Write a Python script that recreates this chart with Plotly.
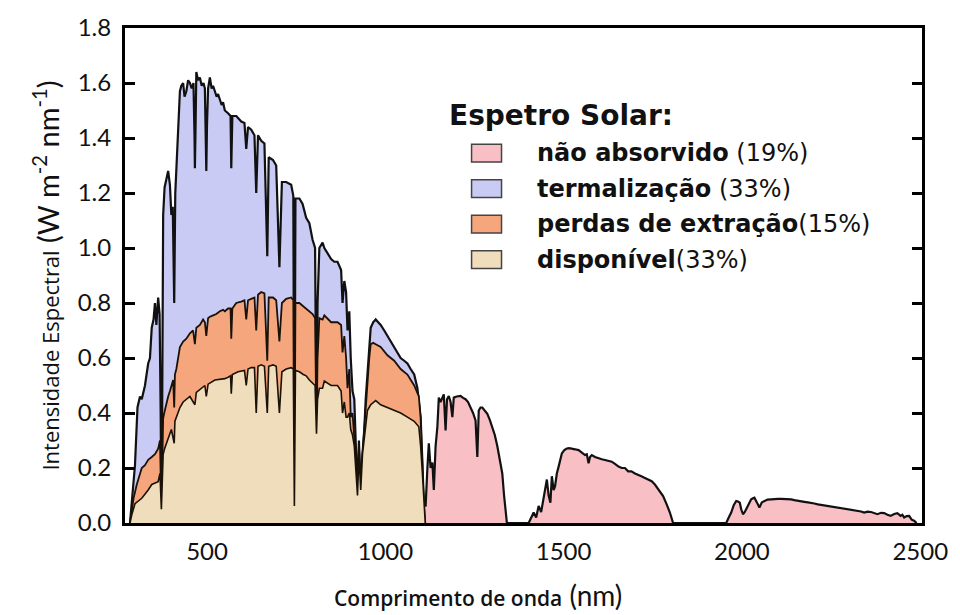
import plotly.graph_objects as go

# --- Data ---
# total spectrum, part absorbed by the cell (lambda below band gap)
wl_short = [284, 292, 298, 305, 312, 317, 326, 335, 340, 345, 350, 354, 358, 363, 367, 370, 372, 374,
            377, 381, 386, 391, 396, 400, 404, 408, 411, 414, 417, 421, 424, 428, 433, 437, 442, 447,
            452, 457, 462, 465, 466, 468, 470, 475, 480, 485, 490, 494, 497, 498, 500, 503, 508, 513,
            517, 522, 527, 531, 536, 541, 545, 550, 559, 566, 568, 571, 582, 596, 605, 610, 615, 624,
            633, 638, 643, 652, 661, 669, 673, 685, 694, 703, 710, 722, 736, 742, 745, 748, 759, 768,
            778, 787, 796, 803, 807, 810, 815, 824, 829, 838, 848, 857, 866, 876, 880, 885, 890, 894,
            899, 903, 908, 913, 918, 922, 926, 931, 936, 941, 945, 950, 955, 959, 966, 973, 980, 987,
            997, 1006, 1015, 1025, 1034, 1043, 1053, 1062, 1071, 1081, 1090, 1095, 1099, 1104, 1108]
total_short = [0.0, 0.12, 0.21, 0.42, 0.46, 0.45, 0.50, 0.58, 0.60, 0.71, 0.74, 0.80, 0.72, 0.82, 0.76,
               0.40, 0.05, 0.35, 1.12, 1.22, 1.25, 1.28, 1.23, 1.12, 1.15, 0.80, 1.20, 1.30, 1.37, 1.50,
               1.57, 1.59, 1.60, 1.55, 1.57, 1.61, 1.60, 1.58, 1.60, 1.40, 1.29, 1.45, 1.64, 1.61, 1.62,
               1.59, 1.60, 1.58, 1.40, 1.28, 1.45, 1.58, 1.62, 1.58, 1.59, 1.57, 1.55, 1.56, 1.54, 1.52,
               1.53, 1.50, 1.49, 1.48, 1.29, 1.48, 1.48, 1.46, 1.455, 1.36, 1.44, 1.43, 1.41, 1.20, 1.41,
               1.39, 1.38, 0.97, 1.33, 1.32, 1.30, 0.93, 1.24, 1.24, 1.23, 1.19, 0.06, 1.18, 1.18, 1.16,
               1.11, 1.09, 1.03, 1.00, 0.34, 0.80, 1.00, 1.02, 1.00, 0.98, 0.96, 0.95, 0.95, 0.92, 0.80,
               0.88, 0.84, 0.70, 0.77, 0.60, 0.48, 0.45, 0.22, 0.10, 0.30, 0.12, 0.25, 0.34, 0.45, 0.55,
               0.64, 0.71, 0.73, 0.74, 0.73, 0.72, 0.70, 0.68, 0.66, 0.64, 0.62, 0.60, 0.59, 0.58, 0.56,
               0.54, 0.49, 0.44, 0.385, 0.22, 0.07]

# total spectrum beyond the band gap (not absorbed)
wl_long = [1108, 1113, 1118, 1122, 1127, 1132, 1136, 1141, 1146, 1150, 1155, 1160, 1164, 1169, 1173,
           1178, 1183, 1188, 1192, 1200, 1211, 1218, 1225, 1232, 1239, 1246, 1253, 1258, 1262, 1267,
           1272, 1279, 1286, 1293, 1300, 1307, 1314, 1321, 1328, 1333, 1337, 1341, 1402, 1409, 1416,
           1423, 1430, 1437, 1444, 1449, 1453, 1458, 1463, 1467, 1472, 1476, 1481, 1486, 1490, 1495,
           1502, 1509, 1516, 1523, 1532, 1542, 1551, 1560, 1565, 1570, 1574, 1579, 1588, 1598, 1607,
           1616, 1626, 1635, 1644, 1654, 1663, 1672, 1681, 1690, 1700, 1709, 1718, 1728, 1737, 1747,
           1756, 1765, 1772, 1779, 1789, 1798, 1807, 1956, 1963, 1970, 1977, 1984, 1989, 1994, 1998,
           2003, 2008, 2012, 2019, 2026, 2031, 2035, 2042, 2049, 2056, 2063, 2072, 2082, 2091, 2101,
           2110, 2119, 2129, 2138, 2147, 2157, 2166, 2175, 2185, 2194, 2203, 2213, 2222, 2231, 2241,
           2250, 2259, 2268, 2278, 2287, 2296, 2306, 2315, 2324, 2334, 2343, 2352, 2362, 2371, 2380,
           2390, 2399, 2408, 2417, 2427, 2436, 2445, 2450, 2455, 2462, 2469, 2476, 2483, 2490]
total_long = [0.07, 0.06, 0.20, 0.29, 0.20, 0.22, 0.12, 0.28, 0.35, 0.456, 0.44, 0.46, 0.468, 0.337,
              0.45, 0.462, 0.44, 0.385, 0.456, 0.46, 0.462, 0.455, 0.45, 0.44, 0.42, 0.40, 0.373, 0.24,
              0.409, 0.42, 0.42, 0.41, 0.397, 0.375, 0.349, 0.32, 0.28, 0.23, 0.18, 0.10, 0.038, 0.0,
              0.0, 0.02, 0.038, 0.02, 0.062, 0.04, 0.098, 0.13, 0.158, 0.10, 0.074, 0.17, 0.12, 0.134,
              0.18, 0.205, 0.23, 0.253, 0.265, 0.271, 0.272, 0.271, 0.268, 0.265, 0.255, 0.247, 0.25,
              0.217, 0.24, 0.247, 0.24, 0.235, 0.232, 0.229, 0.225, 0.223, 0.215, 0.205, 0.20, 0.20,
              0.188, 0.188, 0.18, 0.176, 0.17, 0.164, 0.158, 0.152, 0.14, 0.122, 0.11, 0.098, 0.068,
              0.038, 0.0, 0.0, 0.02, 0.038, 0.065, 0.08, 0.078, 0.074, 0.05, 0.032, 0.04, 0.05, 0.07,
              0.086, 0.09, 0.092, 0.075, 0.056, 0.075, 0.08, 0.085, 0.086, 0.088, 0.088, 0.088, 0.088,
              0.087, 0.086, 0.083, 0.08, 0.078, 0.077, 0.075, 0.074, 0.071, 0.068, 0.066, 0.065, 0.063,
              0.062, 0.059, 0.056, 0.054, 0.053, 0.051, 0.05, 0.047, 0.044, 0.042, 0.038, 0.041, 0.04,
              0.035, 0.032, 0.037, 0.036, 0.03, 0.026, 0.033, 0.036, 0.026, 0.03, 0.02, 0.025, 0.026,
              0.012, 0.008, 0.0]

# top of the "extraction losses" band
wl_extr = [284, 289, 294, 303, 312, 317, 326, 335, 345, 354, 363, 368, 372, 375, 377, 380, 386, 391,
           396, 400, 405, 408, 410, 414, 424, 433, 442, 452, 461, 466, 470, 480, 489, 494, 498, 503,
           508, 517, 526, 536, 545, 550, 559, 566, 568, 571, 582, 596, 605, 610, 615, 624, 633, 638,
           643, 652, 661, 669, 673, 685, 694, 703, 710, 722, 736, 742, 745, 748, 759, 768, 778, 787,
           796, 803, 807, 810, 815, 824, 829, 848, 866, 876, 880, 885, 890, 894, 899, 903, 908, 913,
           918, 922, 926, 931, 936, 941, 945, 950, 955, 959, 966, 973, 987, 1006, 1025, 1043, 1062,
           1081, 1094, 1099, 1104, 1108, 1112]
extr = [0.0, 0.05, 0.09, 0.14, 0.18, 0.20, 0.21, 0.23, 0.24, 0.25, 0.27, 0.30, 0.05, 0.25, 0.38, 0.40,
        0.44, 0.46, 0.48, 0.50, 0.52, 0.42, 0.54, 0.56, 0.64, 0.66, 0.67, 0.69, 0.70, 0.65, 0.71, 0.72,
        0.74, 0.73, 0.68, 0.745, 0.75, 0.755, 0.76, 0.77, 0.775, 0.77, 0.78, 0.78, 0.67, 0.78, 0.80,
        0.805, 0.81, 0.74, 0.81, 0.815, 0.82, 0.70, 0.83, 0.84, 0.835, 0.59, 0.82, 0.82, 0.81, 0.66,
        0.80, 0.815, 0.82, 0.81, 0.062, 0.80, 0.80, 0.79, 0.78, 0.77, 0.76, 0.745, 0.325, 0.60, 0.745,
        0.74, 0.755, 0.73, 0.73, 0.72, 0.62, 0.68, 0.60, 0.49, 0.56, 0.385, 0.40, 0.31, 0.20, 0.10,
        0.28, 0.12, 0.25, 0.337, 0.43, 0.53, 0.60, 0.65, 0.655, 0.65, 0.64, 0.61, 0.59, 0.56, 0.54,
        0.50, 0.46, 0.38, 0.20, 0.07, 0.0]

# top of the "available" band
wl_avail = [284, 289, 298, 317, 335, 345, 363, 368, 372, 375, 377, 381, 391, 400, 408, 410, 424, 433,
            452, 466, 470, 484, 494, 498, 503, 522, 550, 559, 566, 568, 571, 587, 605, 610, 615, 624,
            633, 638, 643, 652, 661, 669, 673, 685, 694, 703, 710, 722, 736, 742, 745, 748, 759, 770,
            778, 787, 796, 803, 807, 810, 815, 824, 829, 848, 866, 876, 880, 885, 890, 894, 899, 903,
            908, 913, 918, 922, 926, 931, 936, 941, 945, 950, 959, 973, 987, 1006, 1025, 1043, 1062,
            1081, 1094, 1099, 1104, 1108, 1112]
avail = [0.0, 0.03, 0.07, 0.09, 0.12, 0.14, 0.15, 0.18, 0.05, 0.17, 0.25, 0.27, 0.31, 0.34, 0.29, 0.37,
         0.42, 0.44, 0.46, 0.43, 0.475, 0.49, 0.50, 0.46, 0.505, 0.52, 0.525, 0.53, 0.535, 0.47, 0.54,
         0.55, 0.555, 0.50, 0.56, 0.565, 0.565, 0.40, 0.57, 0.575, 0.57, 0.40, 0.57, 0.575, 0.57, 0.40,
         0.55, 0.56, 0.565, 0.56, 0.062, 0.555, 0.55, 0.54, 0.535, 0.52, 0.51, 0.50, 0.325, 0.45, 0.49,
         0.49, 0.516, 0.50, 0.50, 0.48, 0.40, 0.44, 0.385, 0.385, 0.40, 0.34, 0.32, 0.28, 0.18, 0.10,
         0.25, 0.12, 0.25, 0.31, 0.37, 0.41, 0.43, 0.445, 0.43, 0.42, 0.41, 0.40, 0.385, 0.37, 0.35,
         0.28, 0.18, 0.07, 0.0]

legend_labels = ["não absorvido", "termalização", "perdas de extração", "disponível"]
legend_pcts = [" (19%)", " (33%)", "(15%)", "(33%)"]

# --- Style ---
C_PINK = "#F8C0C5"
C_LAV = "#C9CBF5"
C_ORANGE = "#F6A67C"
C_TAN = "#EFDDBB"
TICK_FONT = "Lato, 'Open Sans', sans-serif"
LEG_FONT = "'DejaVu Sans', sans-serif"

W, H = 960, 615
L, R, T, B = 125, 37, 21, 92


def px_to_paper(px, py):
    return (px - L) / (W - L - R), (H - B - py) / (H - T - B)


fig = go.Figure()

fig.add_trace(go.Scatter(x=wl_long, y=total_long, mode="lines", fill="tozeroy",
                         fillcolor=C_PINK, line=dict(color="#111", width=2.2), hoverinfo="skip"))
fig.add_trace(go.Scatter(x=wl_short, y=total_short, mode="lines", fill="tozeroy",
                         fillcolor=C_LAV, line=dict(color="#111", width=2.2), hoverinfo="skip"))
fig.add_trace(go.Scatter(x=wl_extr, y=extr, mode="lines", fill="tozeroy",
                         fillcolor=C_ORANGE, line=dict(color="#1a1208", width=1.8), hoverinfo="skip"))
fig.add_trace(go.Scatter(x=wl_avail, y=avail, mode="lines", fill="tozeroy",
                         fillcolor=C_TAN, line=dict(color="#1a1208", width=1.6), hoverinfo="skip"))

fig.update_layout(
    width=W, height=H,
    margin=dict(l=L, r=R, t=T, b=B),
    paper_bgcolor="white", plot_bgcolor="white",
    showlegend=False,
    font=dict(family=TICK_FONT, color="#111"),
)

fig.update_xaxes(
    range=[270, 2505], tickvals=[500, 1000, 1500, 2000, 2500],
    ticks="", showgrid=False, zeroline=False,
    showline=True, linecolor="black", linewidth=3, mirror=True,
    tickfont=dict(family=TICK_FONT, size=24, color="#111"),
    ticklabelstandoff=5,
)
fig.update_yaxes(
    range=[0, 1.8], dtick=0.2, tickformat=".1f",
    ticks="inside", ticklen=10, tickwidth=3, tickcolor="black",
    showgrid=False, zeroline=False,
    showline=True, linecolor="black", linewidth=3, mirror="ticks",
    tickfont=dict(family=TICK_FONT, size=24, color="#111"),
    ticklabelstandoff=6,
)

# legend (drawn by hand to match the boxed swatches)
colors = [C_PINK, C_LAV, C_ORANGE, C_TAN]
tx, ty = px_to_paper(447, 110)
fig.add_annotation(x=tx, y=ty, xref="paper", yref="paper", xanchor="left", yanchor="middle",
                   text="<b>Espetro Solar:</b>", showarrow=False,
                   font=dict(family=LEG_FONT, size=28, color="#111"))
for i, (lab, pct, col) in enumerate(zip(legend_labels, legend_pcts, colors)):
    cy = 148 + i * 36
    x0, y0 = px_to_paper(472, cy + 9)
    x1, y1 = px_to_paper(502, cy - 9)
    fig.add_shape(type="rect", xref="paper", yref="paper", x0=x0, y0=y0, x1=x1, y1=y1,
                  fillcolor=col, line=dict(color="#444", width=1.5))
    ax, ay = px_to_paper(536, cy)
    fig.add_annotation(x=ax, y=ay, xref="paper", yref="paper", xanchor="left", yanchor="middle",
                       text=f"<b>{lab}</b>{pct}", showarrow=False,
                       font=dict(family=LEG_FONT, size=24, color="#111"))

# axis titles
yx, yy = px_to_paper(45, 272)
fig.add_annotation(
    x=yx, y=yy, xref="paper", yref="paper", xanchor="center", yanchor="middle",
    textangle=-90, showarrow=False,
    text=("<span style='font-family:Open Sans;font-size:22px'>Intensidade Espectral</span> "
          "(W m<sup>-2</sup> nm<sup>-1</sup>)"),
    font=dict(family=TICK_FONT, size=29, color="#111"))
xx, xy = px_to_paper(478, 596)
fig.add_annotation(
    x=xx, y=xy, xref="paper", yref="paper", xanchor="center", yanchor="middle",
    showarrow=False,
    text=("<span style='font-family:Open Sans;font-size:21px;font-weight:600'>Comprimento de onda</span> "
          "(nm)"),
    font=dict(family=TICK_FONT, size=28, color="#111"))

# page body has a default margin; drop it so the figure sits at the window origin
fig.write_html("out.html", config={"displayModeBar": False},
               post_script="document.body.style.margin='0';")
